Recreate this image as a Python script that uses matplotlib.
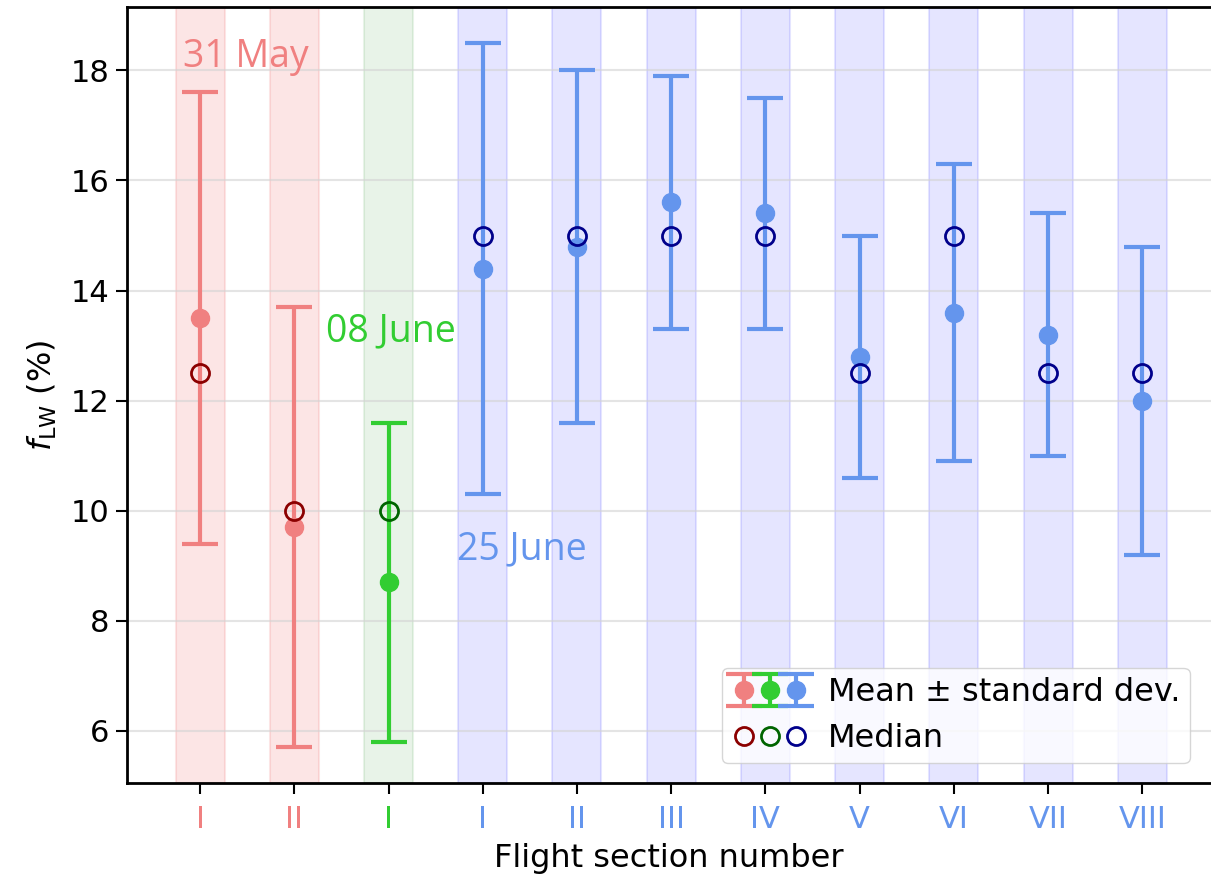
import matplotlib

matplotlib.use("Agg")

import matplotlib.pyplot as plt
from matplotlib.legend_handler import HandlerTuple

# one entry per flight section, in plotting order
section_labels = ["I", "II", "I", "I", "II", "III", "IV", "V", "VI", "VII", "VIII"]
flight_day = [0, 0, 1, 2, 2, 2, 2, 2, 2, 2, 2]
mean_vals = [13.5, 9.7, 8.7, 14.4, 14.8, 15.6, 15.4, 12.8, 13.6, 13.2, 12.0]
std_vals = [4.1, 4.0, 2.9, 4.1, 3.2, 2.3, 2.1, 2.2, 2.7, 2.2, 2.8]
median_vals = [12.5, 10.0, 10.0, 15.0, 15.0, 15.0, 15.0, 12.5, 15.0, 12.5, 12.5]

day_names = ["31 May", "08 June", "25 June"]
day_colors = ["lightcoral", "limegreen", "cornflowerblue"]
median_colors = ["darkred", "darkgreen", "darkblue"]
band_colors = [("lightcoral", 0.2), ("green", 0.09), ("blue", 0.1)]
day_text_pos = [(0.48, 18.25), (2.02, 13.25), (3.42, 9.3)]

fig = plt.figure(figsize=(12.11, 8.82), dpi=100)
ax = fig.add_axes([0.105, 0.112, 0.895, 0.880])

err_handles = [None, None, None]
med_handles = [None, None, None]
for i, day in enumerate(flight_day):
    band_color, band_alpha = band_colors[day]
    ax.axvspan(i - 0.26, i + 0.26, color=band_color, alpha=band_alpha, lw=1.5, zorder=0)
    eb = ax.errorbar(i, mean_vals[i], yerr=std_vals[i], fmt="o", color=day_colors[day],
                     markersize=13, elinewidth=3, capsize=13, capthick=3, zorder=3)
    med, = ax.plot(i, median_vals[i], "o", mfc="none", mec=median_colors[day],
                   markersize=13, mew=2, zorder=4)
    err_handles[day] = eb
    med_handles[day] = med

for day, (tx, ty) in enumerate(day_text_pos):
    ax.text(tx, ty, day_names[day], color=day_colors[day], fontsize=27,
            family="Open Sans", ha="center", va="center")

ax.set_xlim(-0.775, 10.73)
ax.set_ylim(5.05, 19.15)
ax.set_xticks(range(len(section_labels)), section_labels)
for lbl, day in zip(ax.get_xticklabels(), flight_day):
    lbl.set_color(day_colors[day])
ax.set_yticks([6, 8, 10, 12, 14, 16, 18])
ax.tick_params(labelsize=22, length=8, width=1.5)
ax.tick_params(axis="x", pad=8)
ax.tick_params(axis="y", pad=5)
ax.grid(True, axis="y", color="lightgray", alpha=0.6, lw=1.5)
ax.set_axisbelow(True)
for side in ["left", "top", "bottom"]:
    ax.spines[side].set_linewidth(2)
ax.spines["right"].set_visible(False)

ax.set_xlabel("Flight section number", fontsize=23, labelpad=6)
ax.set_ylabel(r"$f_{\mathrm{LW}}$ (%)", fontsize=23, labelpad=8)

ax.legend([tuple(err_handles), tuple(med_handles)],
          ["Mean \u00b1 standard dev.", "Median"],
          handler_map={tuple: HandlerTuple(ndivide=None, pad=0)},
          loc="lower right", bbox_to_anchor=(0.995, 0.005), fontsize=23,
          handlelength=2.4, handletextpad=0.6, borderpad=0.3, labelspacing=0.45,
          framealpha=0.8)

fig.savefig("out.png", dpi=100)
